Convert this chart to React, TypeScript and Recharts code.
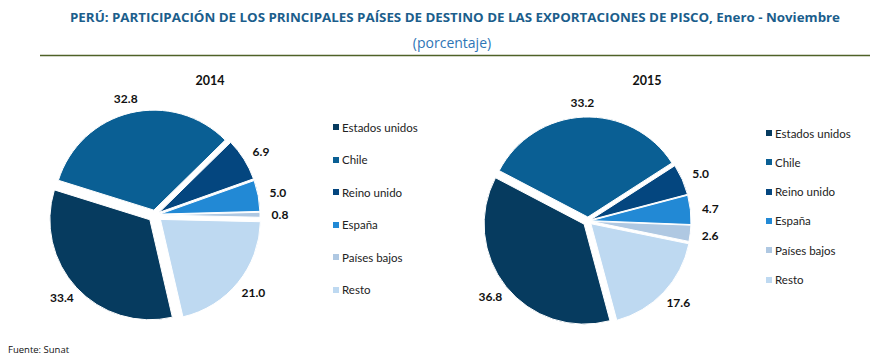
import React from 'react';
import { PieChart, Pie, Cell, Sector } from 'recharts';

// data
const categories = ['Estados unidos', 'Chile', 'Reino unido', 'España', 'Países bajos', 'Resto'];
const values2014 = [33.4, 32.8, 6.9, 5.0, 0.8, 21.0];
const values2015 = [36.8, 33.2, 5.0, 4.7, 2.6, 17.6];
const years = ['2014', '2015'];

const colors = ['#063b5f', '#0a5f94', '#04467f', '#2289d5', '#afc8e2', '#bed9f1'];

// how far each slice is pulled out of the pie
const explode2014 = [7, 5, 5, 5, 5, 7];
const explode2015 = [5, 4, 3, 3, 3, 4];

const RAD = Math.PI / 180;

const data2014 = categories.map((name, i) => ({ name, value: values2014[i] }));
const data2015 = categories.map((name, i) => ({ name, value: values2015[i] }));

const sliceIndex = (props: any) =>
  typeof props.index === 'number' ? props.index : categories.indexOf(props.name ?? props.payload?.name);

const makeShape = (offsets: number[]) => (props: any) => {
  const { cx, cy, innerRadius, outerRadius, startAngle, endAngle, fill } = props;
  const mid = ((startAngle + endAngle) / 2) * RAD;
  const o = offsets[sliceIndex(props)] ?? 0;
  return (
    <Sector
      cx={cx + o * Math.cos(mid)}
      cy={cy - o * Math.sin(mid)}
      innerRadius={innerRadius}
      outerRadius={outerRadius}
      startAngle={startAngle}
      endAngle={endAngle}
      fill={fill}
      stroke="#ffffff"
      strokeWidth={1}
    />
  );
};

const makeLabel = (offsets: number[]) => (props: any) => {
  const { cx, cy, midAngle, outerRadius, value } = props;
  const o = offsets[sliceIndex(props)] ?? 0;
  const c = Math.cos(midAngle * RAD);
  const s = Math.sin(midAngle * RAD);
  const r = outerRadius + o + 9;
  const x = cx + r * c + 11 * c;
  const y = cy - r * s - 6 * s;
  return (
    <text
      x={x}
      y={y}
      textAnchor="middle"
      dominantBaseline="central"
      fontFamily="Lato, 'Open Sans', sans-serif"
      fontWeight={700}
      fontSize={12}
      fill="#111"
    >
      {Number(value).toFixed(1)}
    </text>
  );
};

const Legend = ({ left, top, step }: { left: number; top: number; step: number }) => (
  <>
    {categories.map((name, i) => (
      <div
        key={name}
        style={{
          position: 'absolute',
          left,
          top: top + i * step - 8,
          height: 16,
          display: 'flex',
          alignItems: 'center',
          fontFamily: "Lato, 'Open Sans', sans-serif",
          fontSize: 11.5,
          color: '#222',
          whiteSpace: 'nowrap',
        }}
      >
        <span style={{ width: 6, height: 6, background: colors[i], marginRight: 3, display: 'inline-block' }} />
        {name}
      </div>
    ))}
  </>
);

export default function App() {
  return (
    <div style={{ position: 'absolute', left: 0, top: 0, width: 885, height: 364, background: '#fff' }}>
      <svg width={885} height={364} style={{ position: 'absolute', left: 0, top: 0 }}>
        <text
          x={455}
          y={22}
          textAnchor="middle"
          textLength={770}
          lengthAdjust="spacingAndGlyphs"
          fontFamily="'Open Sans', sans-serif"
          fontWeight={700}
          fontSize={13}
          fill="#1b5e8c"
        >
          PERÚ: PARTICIPACIÓN DE LOS PRINCIPALES PAÍSES DE DESTINO DE LAS EXPORTACIONES DE PISCO, Enero - Noviembre
        </text>
        <text
          x={452}
          y={48}
          textAnchor="middle"
          fontFamily="'Open Sans', sans-serif"
          fontSize={14}
          fill="#2e75b6"
        >
          (porcentaje)
        </text>
        <line x1={40} y1={55.5} x2={870} y2={55.5} stroke="#4f6228" strokeWidth={1.5} />
        <text x={210} y={85} textAnchor="middle" fontFamily="Lato, sans-serif" fontWeight={700} fontSize={12.5} fill="#111">
          {years[0]}
        </text>
        <text x={647} y={85} textAnchor="middle" fontFamily="Lato, sans-serif" fontWeight={700} fontSize={12.5} fill="#111">
          {years[1]}
        </text>
        <text x={8} y={353} fontFamily="'Open Sans', sans-serif" fontSize={9.5} fill="#111">
          Fuente: Sunat
        </text>
      </svg>

      <div style={{ position: 'absolute', left: 0, top: 0 }}>
        <PieChart width={885} height={364} margin={{ top: 0, right: 0, bottom: 0, left: 0 }}>
          <Pie
            data={data2014}
            dataKey="value"
            nameKey="name"
            cx={155}
            cy={215}
            outerRadius={100}
            startAngle={-77}
            endAngle={-437}
            shape={makeShape(explode2014)}
            label={makeLabel(explode2014)}
            labelLine={false}
            isAnimationActive={false}
          >
            {data2014.map((d, i) => (
              <Cell key={d.name} fill={colors[i]} />
            ))}
          </Pie>
          <Pie
            data={data2015}
            dataKey="value"
            nameKey="name"
            cx={588}
            cy={221}
            outerRadius={100}
            startAngle={-75}
            endAngle={-435}
            shape={makeShape(explode2015)}
            label={makeLabel(explode2015)}
            labelLine={false}
            isAnimationActive={false}
          >
            {data2015.map((d, i) => (
              <Cell key={d.name} fill={colors[i]} />
            ))}
          </Pie>
        </PieChart>
      </div>

      <Legend left={333} top={127} step={32.5} />
      <Legend left={766} top={133} step={29.3} />
    </div>
  );
}
